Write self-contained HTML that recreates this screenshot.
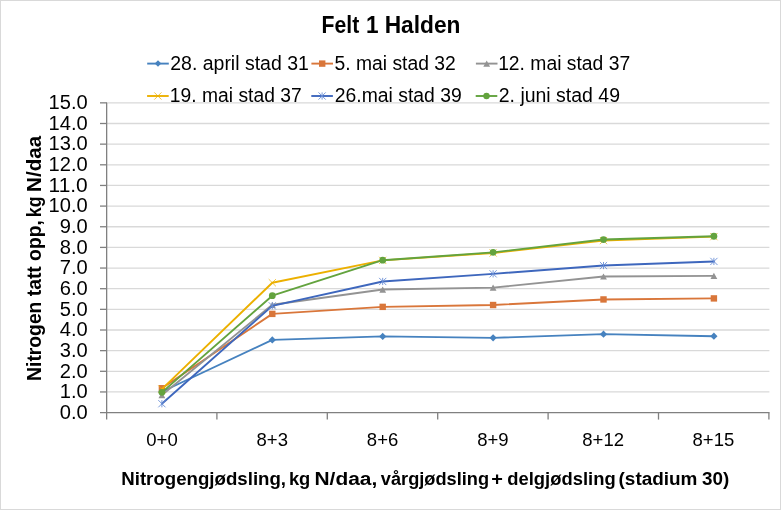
<!DOCTYPE html>
<html><head><meta charset="utf-8"><style>
html,body{margin:0;padding:0;background:#fff;}
svg{display:block;will-change:transform;}
text{font-family:"Liberation Sans",sans-serif;fill:#000;}
</style></head><body>
<svg width="781" height="510" viewBox="0 0 781 510">
<rect x="0.5" y="0.5" width="780" height="509" fill="#fff" stroke="#d9d9d9" stroke-width="1"/>
<line x1="107.10" y1="391.95" x2="769.40" y2="391.95" stroke="#d9d9d9" stroke-width="1.3"/>
<line x1="107.10" y1="371.30" x2="769.40" y2="371.30" stroke="#d9d9d9" stroke-width="1.3"/>
<line x1="107.10" y1="350.65" x2="769.40" y2="350.65" stroke="#d9d9d9" stroke-width="1.3"/>
<line x1="107.10" y1="330.00" x2="769.40" y2="330.00" stroke="#d9d9d9" stroke-width="1.3"/>
<line x1="107.10" y1="309.35" x2="769.40" y2="309.35" stroke="#d9d9d9" stroke-width="1.3"/>
<line x1="107.10" y1="288.70" x2="769.40" y2="288.70" stroke="#d9d9d9" stroke-width="1.3"/>
<line x1="107.10" y1="268.05" x2="769.40" y2="268.05" stroke="#d9d9d9" stroke-width="1.3"/>
<line x1="107.10" y1="247.40" x2="769.40" y2="247.40" stroke="#d9d9d9" stroke-width="1.3"/>
<line x1="107.10" y1="226.75" x2="769.40" y2="226.75" stroke="#d9d9d9" stroke-width="1.3"/>
<line x1="107.10" y1="206.10" x2="769.40" y2="206.10" stroke="#d9d9d9" stroke-width="1.3"/>
<line x1="107.10" y1="185.45" x2="769.40" y2="185.45" stroke="#d9d9d9" stroke-width="1.3"/>
<line x1="107.10" y1="164.80" x2="769.40" y2="164.80" stroke="#d9d9d9" stroke-width="1.3"/>
<line x1="107.10" y1="144.15" x2="769.40" y2="144.15" stroke="#d9d9d9" stroke-width="1.3"/>
<line x1="107.10" y1="123.50" x2="769.40" y2="123.50" stroke="#d9d9d9" stroke-width="1.3"/>
<line x1="107.10" y1="102.85" x2="769.40" y2="102.85" stroke="#d9d9d9" stroke-width="1.3"/>
<line x1="106.65" y1="102.85" x2="106.65" y2="419.60" stroke="#808080" stroke-width="1.3"/>
<line x1="100.00" y1="412.60" x2="769.50" y2="412.60" stroke="#808080" stroke-width="1.3"/>
<line x1="100.00" y1="391.95" x2="107.00" y2="391.95" stroke="#808080" stroke-width="1.3"/>
<line x1="100.00" y1="371.30" x2="107.00" y2="371.30" stroke="#808080" stroke-width="1.3"/>
<line x1="100.00" y1="350.65" x2="107.00" y2="350.65" stroke="#808080" stroke-width="1.3"/>
<line x1="100.00" y1="330.00" x2="107.00" y2="330.00" stroke="#808080" stroke-width="1.3"/>
<line x1="100.00" y1="309.35" x2="107.00" y2="309.35" stroke="#808080" stroke-width="1.3"/>
<line x1="100.00" y1="288.70" x2="107.00" y2="288.70" stroke="#808080" stroke-width="1.3"/>
<line x1="100.00" y1="268.05" x2="107.00" y2="268.05" stroke="#808080" stroke-width="1.3"/>
<line x1="100.00" y1="247.40" x2="107.00" y2="247.40" stroke="#808080" stroke-width="1.3"/>
<line x1="100.00" y1="226.75" x2="107.00" y2="226.75" stroke="#808080" stroke-width="1.3"/>
<line x1="100.00" y1="206.10" x2="107.00" y2="206.10" stroke="#808080" stroke-width="1.3"/>
<line x1="100.00" y1="185.45" x2="107.00" y2="185.45" stroke="#808080" stroke-width="1.3"/>
<line x1="100.00" y1="164.80" x2="107.00" y2="164.80" stroke="#808080" stroke-width="1.3"/>
<line x1="100.00" y1="144.15" x2="107.00" y2="144.15" stroke="#808080" stroke-width="1.3"/>
<line x1="100.00" y1="123.50" x2="107.00" y2="123.50" stroke="#808080" stroke-width="1.3"/>
<line x1="100.00" y1="102.85" x2="107.00" y2="102.85" stroke="#808080" stroke-width="1.3"/>
<line x1="216.90" y1="412.60" x2="216.90" y2="419.60" stroke="#808080" stroke-width="1.3"/>
<line x1="327.30" y1="412.60" x2="327.30" y2="419.60" stroke="#808080" stroke-width="1.3"/>
<line x1="437.70" y1="412.60" x2="437.70" y2="419.60" stroke="#808080" stroke-width="1.3"/>
<line x1="548.10" y1="412.60" x2="548.10" y2="419.60" stroke="#808080" stroke-width="1.3"/>
<line x1="658.50" y1="412.60" x2="658.50" y2="419.60" stroke="#808080" stroke-width="1.3"/>
<line x1="768.90" y1="412.60" x2="768.90" y2="419.60" stroke="#808080" stroke-width="1.3"/>
<polyline points="161.90,391.74 272.30,339.91 382.70,336.40 493.10,337.85 603.50,334.13 713.90,336.20" fill="none" stroke="#4682bf" stroke-width="1.9" stroke-linejoin="round" stroke-linecap="round"/>
<path d="M161.90 388.14L165.50 391.74L161.90 395.34L158.30 391.74Z" fill="#4682bf"/>
<path d="M272.30 336.31L275.90 339.91L272.30 343.51L268.70 339.91Z" fill="#4682bf"/>
<path d="M382.70 332.80L386.30 336.40L382.70 340.00L379.10 336.40Z" fill="#4682bf"/>
<path d="M493.10 334.25L496.70 337.85L493.10 341.45L489.50 337.85Z" fill="#4682bf"/>
<path d="M603.50 330.53L607.10 334.13L603.50 337.73L599.90 334.13Z" fill="#4682bf"/>
<path d="M713.90 332.60L717.50 336.20L713.90 339.80L710.30 336.20Z" fill="#4682bf"/>
<polyline points="161.90,388.23 272.30,313.89 382.70,306.87 493.10,305.01 603.50,299.44 713.90,298.41" fill="none" stroke="#d9763a" stroke-width="1.9" stroke-linejoin="round" stroke-linecap="round"/>
<rect x="158.70" y="385.03" width="6.40" height="6.40" fill="#d9763a"/>
<rect x="269.10" y="310.69" width="6.40" height="6.40" fill="#d9763a"/>
<rect x="379.50" y="303.67" width="6.40" height="6.40" fill="#d9763a"/>
<rect x="489.90" y="301.81" width="6.40" height="6.40" fill="#d9763a"/>
<rect x="600.30" y="296.24" width="6.40" height="6.40" fill="#d9763a"/>
<rect x="710.70" y="295.21" width="6.40" height="6.40" fill="#d9763a"/>
<polyline points="161.90,395.05 272.30,304.81 382.70,289.53 493.10,287.67 603.50,276.52 713.90,275.90" fill="none" stroke="#939393" stroke-width="1.9" stroke-linejoin="round" stroke-linecap="round"/>
<path d="M161.90 391.95L165.30 398.15L158.50 398.15Z" fill="#939393"/>
<path d="M272.30 301.71L275.70 307.91L268.90 307.91Z" fill="#939393"/>
<path d="M382.70 286.43L386.10 292.63L379.30 292.63Z" fill="#939393"/>
<path d="M493.10 284.57L496.50 290.77L489.70 290.77Z" fill="#939393"/>
<path d="M603.50 273.42L606.90 279.62L600.10 279.62Z" fill="#939393"/>
<path d="M713.90 272.80L717.30 279.00L710.50 279.00Z" fill="#939393"/>
<polyline points="161.90,389.06 272.30,282.71 382.70,260.41 493.10,252.98 603.50,240.59 713.90,236.66" fill="none" stroke="#ecb000" stroke-width="1.9" stroke-linejoin="round" stroke-linecap="round"/>
<path d="M158.30 385.46L165.50 392.66M165.50 385.46L158.30 392.66" stroke="#ecb000" stroke-width="0.9" fill="none" opacity="0.8"/>
<path d="M268.70 279.11L275.90 286.31M275.90 279.11L268.70 286.31" stroke="#ecb000" stroke-width="0.9" fill="none" opacity="0.8"/>
<path d="M379.10 256.81L386.30 264.01M386.30 256.81L379.10 264.01" stroke="#ecb000" stroke-width="0.9" fill="none" opacity="0.8"/>
<path d="M489.50 249.38L496.70 256.58M496.70 249.38L489.50 256.58" stroke="#ecb000" stroke-width="0.9" fill="none" opacity="0.8"/>
<path d="M599.90 236.99L607.10 244.19M607.10 236.99L599.90 244.19" stroke="#ecb000" stroke-width="0.9" fill="none" opacity="0.8"/>
<path d="M710.30 233.06L717.50 240.26M717.50 233.06L710.30 240.26" stroke="#ecb000" stroke-width="0.9" fill="none" opacity="0.8"/>
<polyline points="161.90,403.72 272.30,305.84 382.70,281.47 493.10,273.83 603.50,265.57 713.90,261.44" fill="none" stroke="#3e67bd" stroke-width="1.9" stroke-linejoin="round" stroke-linecap="round"/>
<path d="M158.30 400.12L165.50 407.32M165.50 400.12L158.30 407.32M161.90 400.12L161.90 407.32" stroke="#6a8fd6" stroke-width="0.9" fill="none"/>
<path d="M268.70 302.24L275.90 309.44M275.90 302.24L268.70 309.44M272.30 302.24L272.30 309.44" stroke="#6a8fd6" stroke-width="0.9" fill="none"/>
<path d="M379.10 277.87L386.30 285.07M386.30 277.87L379.10 285.07M382.70 277.87L382.70 285.07" stroke="#6a8fd6" stroke-width="0.9" fill="none"/>
<path d="M489.50 270.23L496.70 277.43M496.70 270.23L489.50 277.43M493.10 270.23L493.10 277.43" stroke="#6a8fd6" stroke-width="0.9" fill="none"/>
<path d="M599.90 261.97L607.10 269.17M607.10 261.97L599.90 269.17M603.50 261.97L603.50 269.17" stroke="#6a8fd6" stroke-width="0.9" fill="none"/>
<path d="M710.30 257.84L717.50 265.04M717.50 257.84L710.30 265.04M713.90 257.84L713.90 265.04" stroke="#6a8fd6" stroke-width="0.9" fill="none"/>
<polyline points="161.90,392.36 272.30,295.72 382.70,260.20 493.10,252.36 603.50,239.55 713.90,236.25" fill="none" stroke="#63a33e" stroke-width="1.9" stroke-linejoin="round" stroke-linecap="round"/>
<circle cx="161.90" cy="392.36" r="3.40" fill="#63a33e"/>
<circle cx="272.30" cy="295.72" r="3.40" fill="#63a33e"/>
<circle cx="382.70" cy="260.20" r="3.40" fill="#63a33e"/>
<circle cx="493.10" cy="252.36" r="3.40" fill="#63a33e"/>
<circle cx="603.50" cy="239.55" r="3.40" fill="#63a33e"/>
<circle cx="713.90" cy="236.25" r="3.40" fill="#63a33e"/>
<text x="321.58" y="32.70" font-size="23.2" font-weight="bold" textLength="37.68" lengthAdjust="spacingAndGlyphs">Felt</text>
<text x="365.88" y="32.70" font-size="23.2" font-weight="bold" textLength="12.55" lengthAdjust="spacingAndGlyphs">1</text>
<text x="384.68" y="32.70" font-size="23.2" font-weight="bold" textLength="75.83" lengthAdjust="spacingAndGlyphs">Halden</text>
<line x1="147.20" y1="63.60" x2="168.80" y2="63.60" stroke="#4682bf" stroke-width="1.9"/>
<path d="M158.00 60.36L161.24 63.60L158.00 66.84L154.76 63.60Z" fill="#4682bf"/>
<text x="170.22" y="69.80" font-size="19.5" font-weight="normal" textLength="138.63" lengthAdjust="spacingAndGlyphs">28. april stad 31</text>
<line x1="311.40" y1="63.60" x2="333.00" y2="63.60" stroke="#d9763a" stroke-width="1.9"/>
<rect x="319.00" y="60.40" width="6.40" height="6.40" fill="#d9763a"/>
<text x="334.53" y="69.80" font-size="19.5" font-weight="normal" textLength="121.24" lengthAdjust="spacingAndGlyphs">5. mai stad 32</text>
<line x1="475.90" y1="63.60" x2="497.50" y2="63.60" stroke="#939393" stroke-width="1.9"/>
<path d="M486.70 60.50L490.10 66.70L483.30 66.70Z" fill="#939393"/>
<text x="498.13" y="69.80" font-size="19.5" font-weight="normal" textLength="132.04" lengthAdjust="spacingAndGlyphs">12. mai stad 37</text>
<line x1="147.10" y1="96.00" x2="168.70" y2="96.00" stroke="#ecb000" stroke-width="1.9"/>
<path d="M154.30 92.40L161.50 99.60M161.50 92.40L154.30 99.60" stroke="#ecb000" stroke-width="0.9" fill="none" opacity="0.8"/>
<text x="169.83" y="101.80" font-size="19.5" font-weight="normal" textLength="131.84" lengthAdjust="spacingAndGlyphs">19. mai stad 37</text>
<line x1="311.30" y1="96.00" x2="332.90" y2="96.00" stroke="#3e67bd" stroke-width="1.9"/>
<path d="M318.50 92.40L325.70 99.60M325.70 92.40L318.50 99.60M322.10 92.40L322.10 99.60" stroke="#6a8fd6" stroke-width="0.9" fill="none"/>
<text x="334.73" y="101.80" font-size="19.5" font-weight="normal" textLength="127.09" lengthAdjust="spacingAndGlyphs">26.mai stad 39</text>
<line x1="475.70" y1="96.00" x2="497.30" y2="96.00" stroke="#63a33e" stroke-width="1.9"/>
<circle cx="486.50" cy="96.00" r="3.20" fill="#63a33e"/>
<text x="498.72" y="101.80" font-size="19.5" font-weight="normal" textLength="121.30" lengthAdjust="spacingAndGlyphs">2. juni stad 49</text>
<text x="59.81" y="418.90" font-size="19.3" font-weight="normal" textLength="27.97" lengthAdjust="spacingAndGlyphs">0.0</text>
<text x="59.81" y="398.25" font-size="19.3" font-weight="normal" textLength="27.97" lengthAdjust="spacingAndGlyphs">1.0</text>
<text x="59.81" y="377.60" font-size="19.3" font-weight="normal" textLength="27.97" lengthAdjust="spacingAndGlyphs">2.0</text>
<text x="59.81" y="356.95" font-size="19.3" font-weight="normal" textLength="27.97" lengthAdjust="spacingAndGlyphs">3.0</text>
<text x="59.81" y="336.30" font-size="19.3" font-weight="normal" textLength="27.97" lengthAdjust="spacingAndGlyphs">4.0</text>
<text x="59.81" y="315.65" font-size="19.3" font-weight="normal" textLength="27.97" lengthAdjust="spacingAndGlyphs">5.0</text>
<text x="59.81" y="295.00" font-size="19.3" font-weight="normal" textLength="27.97" lengthAdjust="spacingAndGlyphs">6.0</text>
<text x="59.81" y="274.35" font-size="19.3" font-weight="normal" textLength="27.97" lengthAdjust="spacingAndGlyphs">7.0</text>
<text x="59.81" y="253.70" font-size="19.3" font-weight="normal" textLength="27.97" lengthAdjust="spacingAndGlyphs">8.0</text>
<text x="59.81" y="233.05" font-size="19.3" font-weight="normal" textLength="27.97" lengthAdjust="spacingAndGlyphs">9.0</text>
<text x="48.62" y="212.40" font-size="19.3" font-weight="normal" textLength="39.16" lengthAdjust="spacingAndGlyphs">10.0</text>
<text x="48.62" y="191.75" font-size="19.3" font-weight="normal" textLength="39.16" lengthAdjust="spacingAndGlyphs">11.0</text>
<text x="48.62" y="171.10" font-size="19.3" font-weight="normal" textLength="39.16" lengthAdjust="spacingAndGlyphs">12.0</text>
<text x="48.62" y="150.45" font-size="19.3" font-weight="normal" textLength="39.16" lengthAdjust="spacingAndGlyphs">13.0</text>
<text x="48.62" y="129.80" font-size="19.3" font-weight="normal" textLength="39.16" lengthAdjust="spacingAndGlyphs">14.0</text>
<text x="48.62" y="109.15" font-size="19.3" font-weight="normal" textLength="39.16" lengthAdjust="spacingAndGlyphs">15.0</text>
<text x="146.29" y="446.30" font-size="19.0" font-weight="normal" textLength="31.42" lengthAdjust="spacingAndGlyphs">0+0</text>
<text x="256.57" y="446.30" font-size="19.0" font-weight="normal" textLength="31.42" lengthAdjust="spacingAndGlyphs">8+3</text>
<text x="366.85" y="446.30" font-size="19.0" font-weight="normal" textLength="31.42" lengthAdjust="spacingAndGlyphs">8+6</text>
<text x="477.16" y="446.30" font-size="19.0" font-weight="normal" textLength="31.42" lengthAdjust="spacingAndGlyphs">8+9</text>
<text x="582.32" y="446.30" font-size="19.0" font-weight="normal" textLength="41.73" lengthAdjust="spacingAndGlyphs">8+12</text>
<text x="692.52" y="446.30" font-size="19.0" font-weight="normal" textLength="41.73" lengthAdjust="spacingAndGlyphs">8+15</text>
<text x="121.25" y="484.80" font-size="18.8" font-weight="bold" textLength="164.80" lengthAdjust="spacingAndGlyphs">Nitrogengjødsling,</text>
<text x="288.92" y="484.80" font-size="18.8" font-weight="bold" textLength="21.41" lengthAdjust="spacingAndGlyphs">kg</text>
<text x="314.50" y="484.80" font-size="18.8" font-weight="bold" textLength="62.70" lengthAdjust="spacingAndGlyphs">N/daa,</text>
<text x="380.83" y="484.80" font-size="18.8" font-weight="bold" textLength="108.29" lengthAdjust="spacingAndGlyphs">vårgjødsling</text>
<text x="491.16" y="484.80" font-size="18.8" font-weight="bold" textLength="11.65" lengthAdjust="spacingAndGlyphs">+</text>
<text x="507.25" y="484.80" font-size="18.8" font-weight="bold" textLength="108.39" lengthAdjust="spacingAndGlyphs">delgjødsling</text>
<text x="618.56" y="484.80" font-size="18.8" font-weight="bold" textLength="78.92" lengthAdjust="spacingAndGlyphs">(stadium</text>
<text x="701.97" y="484.80" font-size="18.8" font-weight="bold" textLength="27.27" lengthAdjust="spacingAndGlyphs">30)</text>
<g transform="translate(40.5,0) rotate(-90)"><text x="-380.89" y="0.00" font-size="19.5" font-weight="bold" textLength="160.68" lengthAdjust="spacingAndGlyphs">Nitrogen tatt opp,</text><text x="-217.14" y="0.00" font-size="19.5" font-weight="bold" textLength="20.73" lengthAdjust="spacingAndGlyphs">kg</text><text x="-191.98" y="0.00" font-size="19.5" font-weight="bold" textLength="56.15" lengthAdjust="spacingAndGlyphs">N/daa</text></g>
</svg>
</body></html>
